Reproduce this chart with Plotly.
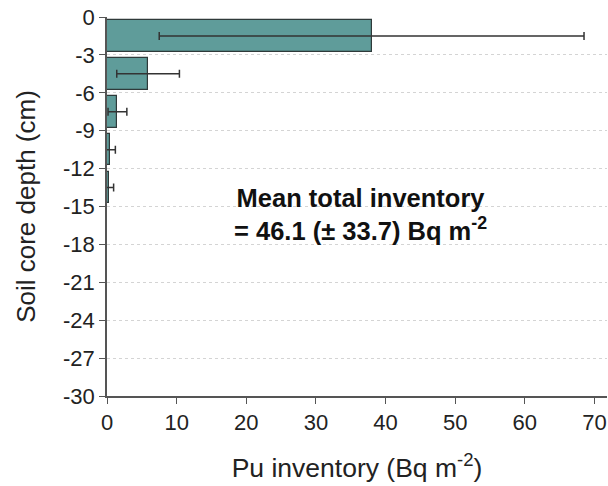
import plotly.graph_objects as go

# Depth-interval midpoints (cm, negative = below surface)
depth_mid = [-1.5, -4.5, -7.5, -10.5, -13.5]
# Pu inventory per depth interval (Bq m-2) and its uncertainty
inventory = [38.0, 5.9, 1.5, 0.5, 0.35]
inventory_err = [30.5, 4.5, 1.35, 0.7, 0.6]

y_tickvals = list(range(0, -31, -3))
y_ticktext = ["0", "-3", "-6", "-9", "-12", "-15", "-18", "-21", "-24", "-27", "-30"]
x_tickvals = list(range(0, 71, 10))

font_family = "Liberation Sans, Arial, sans-serif"

fig = go.Figure()
fig.add_trace(go.Bar(
    x=inventory,
    y=depth_mid,
    orientation="h",
    width=2.5,
    marker=dict(color="#5f9c9a", line=dict(color="#2f3a3a", width=1.2)),
    error_x=dict(type="data", array=inventory_err, visible=True,
                 color="#333333", thickness=1.5, width=4),
    showlegend=False,
))

fig.add_annotation(
    x=0.506, y=0.478, xref="paper", yref="paper",
    text="<b>Mean total inventory<br>= 46.1 (± 33.7) Bq m<sup>-2</sup></b>",
    showarrow=False, align="center",
    font=dict(family=font_family, size=25.5, color="#111111"),
)

fig.update_layout(
    width=608, height=486,
    margin=dict(l=107, r=1, t=17, b=90),
    plot_bgcolor="white", paper_bgcolor="white",
    font=dict(family=font_family, size=22, color="#222222"),
    bargap=0,
)
fig.update_xaxes(
    range=[0, 71.8], tickvals=x_tickvals, showgrid=False, zeroline=False,
    showline=True, linecolor="#555555", linewidth=1.5,
    ticks="outside", ticklen=6, tickcolor="#555555",
    title=dict(text="Pu inventory (Bq m<sup>-2</sup>)", font=dict(size=26.5), standoff=24),
)
fig.update_yaxes(
    range=[-30, 0], tickvals=y_tickvals, ticktext=y_ticktext, zeroline=False,
    showgrid=True, gridcolor="#d4d4d4", griddash="dot", gridwidth=1,
    showline=True, linecolor="#555555", linewidth=1.5,
    ticks="outside", ticklen=6, tickcolor="#555555",
    title=dict(text="Soil core depth (cm)", font=dict(size=26), standoff=20),
)

fig.write_html("out.html")
